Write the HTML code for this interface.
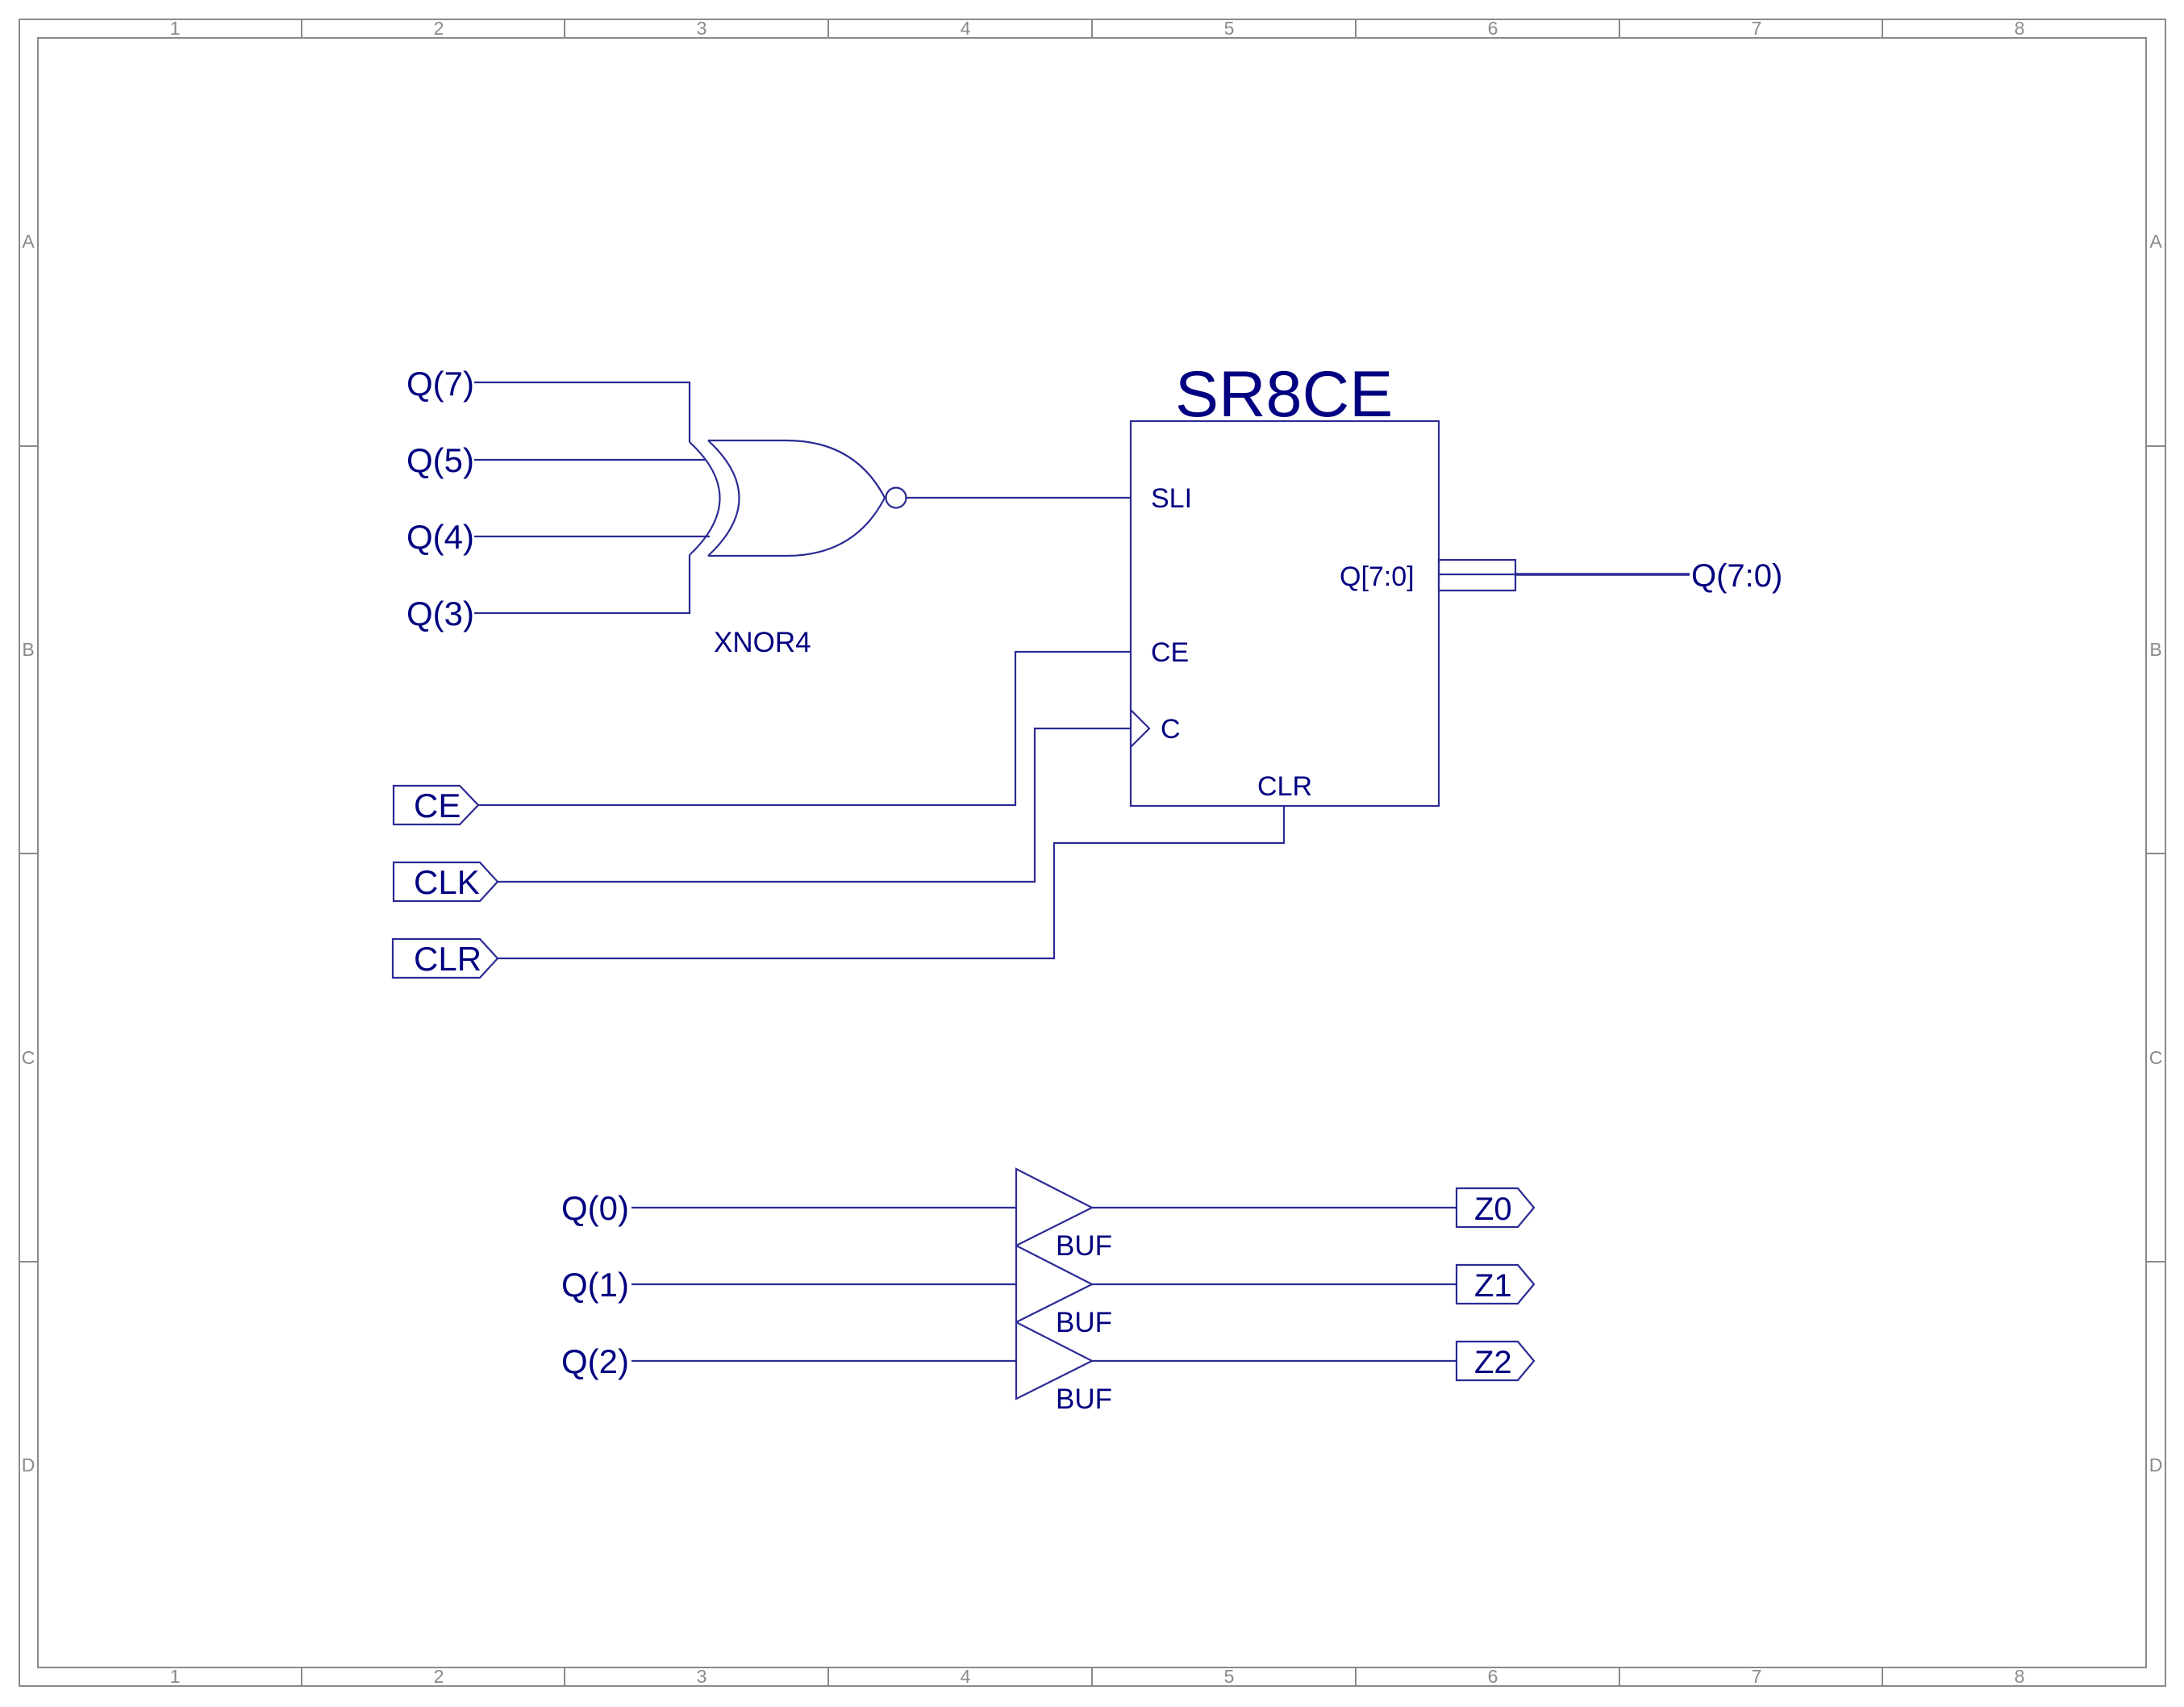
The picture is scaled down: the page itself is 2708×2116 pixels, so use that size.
<!DOCTYPE html>
<html><head><meta charset="utf-8"><style>
html,body{margin:0;padding:0;background:#fff;}
svg{display:block;}
text{font-family:"Liberation Sans",Arial,sans-serif;}
</style></head><body>
<svg width="2708" height="2116" viewBox="0 0 2708 2116" xmlns="http://www.w3.org/2000/svg">
<g fill="none" stroke="#8a8a8a" stroke-width="2">
<rect x="24" y="24" width="2661" height="2066"/>
<rect x="47" y="47" width="2614" height="2020"/>
<line x1="374" y1="24" x2="374" y2="47"/><line x1="700" y1="24" x2="700" y2="47"/><line x1="1027" y1="24" x2="1027" y2="47"/><line x1="1354" y1="24" x2="1354" y2="47"/><line x1="1681" y1="24" x2="1681" y2="47"/><line x1="2008" y1="24" x2="2008" y2="47"/><line x1="2334" y1="24" x2="2334" y2="47"/>
<line x1="374" y1="2067" x2="374" y2="2090"/><line x1="700" y1="2067" x2="700" y2="2090"/><line x1="1027" y1="2067" x2="1027" y2="2090"/><line x1="1354" y1="2067" x2="1354" y2="2090"/><line x1="1681" y1="2067" x2="1681" y2="2090"/><line x1="2008" y1="2067" x2="2008" y2="2090"/><line x1="2334" y1="2067" x2="2334" y2="2090"/>
<line x1="24" y1="553" x2="47" y2="553"/><line x1="24" y1="1058" x2="47" y2="1058"/><line x1="24" y1="1564" x2="47" y2="1564"/>
<line x1="2661" y1="553" x2="2685" y2="553"/><line x1="2661" y1="1058" x2="2685" y2="1058"/><line x1="2661" y1="1564" x2="2685" y2="1564"/>
</g>
<g fill="#8a8a8a" font-size="23" text-anchor="middle">
<text x="217" y="43">1</text><text x="544" y="43">2</text><text x="870" y="43">3</text><text x="1197" y="43">4</text><text x="1524" y="43">5</text><text x="1851" y="43">6</text><text x="2178" y="43">7</text><text x="2504" y="43">8</text>
<text x="217" y="2086">1</text><text x="544" y="2086">2</text><text x="870" y="2086">3</text><text x="1197" y="2086">4</text><text x="1524" y="2086">5</text><text x="1851" y="2086">6</text><text x="2178" y="2086">7</text><text x="2504" y="2086">8</text>
<text x="35" y="307">A</text><text x="35" y="813">B</text><text x="35" y="1319">C</text><text x="35" y="1824">D</text>
<text x="2673" y="307">A</text><text x="2673" y="813">B</text><text x="2673" y="1319">C</text><text x="2673" y="1824">D</text>
</g>
<g fill="none" stroke="#2b2b95" stroke-width="2.2">
<polyline points="588,474 855,474 855,548"/>
<line x1="588" y1="570" x2="874" y2="570"/>
<line x1="588" y1="665" x2="880" y2="665"/>
<polyline points="588,760 855,760 855,688"/>
<path d="M855,548 Q930,617 855,688"/>
<path d="M878,546 Q955,617 878,689"/>
<path d="M878,546 L975,546 Q1060,546 1097,617 Q1060,689 975,689 L878,689"/>
<circle cx="1111" cy="617" r="12.5"/>
<line x1="1124" y1="617" x2="1402" y2="617"/>
<rect x="1402" y="522" width="382" height="477"/>
<polyline points="1402,880 1425,903 1402,926"/>
<rect x="1784" y="694" width="95" height="38"/>
<line x1="1784" y1="712" x2="1879" y2="712"/>
<line x1="1879" y1="712" x2="2095" y2="712" stroke-width="3.5"/>
<polyline points="1402,808 1259,808 1259,998 593,998"/>
<polyline points="1402,903 1283,903 1283,1093 617,1093"/>
<polyline points="1592,999 1592,1045 1307,1045 1307,1188 617,1188"/>
<polygon points="488,974 570,974 593,998 570,1022 488,1022"/>
<polygon points="488,1069 595,1069 617,1093 595,1117 488,1117"/>
<polygon points="487,1164 595,1164 617,1188 595,1212 487,1212"/>
<line x1="783" y1="1497" x2="1260" y2="1497"/>
<line x1="783" y1="1592" x2="1260" y2="1592"/>
<line x1="783" y1="1687" x2="1260" y2="1687"/>
<polygon points="1260,1449 1354,1497 1260,1544"/>
<polygon points="1260,1544 1354,1592 1260,1639"/>
<polygon points="1260,1639 1354,1687 1260,1734"/>
<line x1="1354" y1="1497" x2="1806" y2="1497"/>
<line x1="1354" y1="1592" x2="1806" y2="1592"/>
<line x1="1354" y1="1687" x2="1806" y2="1687"/>
<polygon points="1806,1473 1882,1473 1902,1497 1882,1521 1806,1521"/>
<polygon points="1806,1568 1882,1568 1902,1592 1882,1616 1806,1616"/>
<polygon points="1806,1663 1882,1663 1902,1687 1882,1711 1806,1711"/>
</g>
<g fill="#000080">
<text x="504" y="490" font-size="42">Q(7)</text>
<text x="504" y="585" font-size="42">Q(5)</text>
<text x="504" y="680" font-size="42">Q(4)</text>
<text x="504" y="775" font-size="42">Q(3)</text>
<text x="885" y="808" font-size="35">XNOR4</text>
<text x="1457" y="516" font-size="81">SR8CE</text>
<text x="1427" y="629" font-size="34">SLI</text>
<text x="1427" y="820" font-size="34">CE</text>
<text x="1439" y="915" font-size="34">C</text>
<text x="1559" y="986" font-size="34">CLR</text>
<text x="1661" y="726" font-size="34">Q[7:0]</text>
<text x="2097" y="727" font-size="40">Q(7:0)</text>
<text x="513" y="1013" font-size="42">CE</text>
<text x="513" y="1108" font-size="42">CLK</text>
<text x="513" y="1203" font-size="42">CLR</text>
<text x="696" y="1512" font-size="42">Q(0)</text>
<text x="696" y="1607" font-size="42">Q(1)</text>
<text x="696" y="1702" font-size="42">Q(2)</text>
<text x="1309" y="1556" font-size="35">BUF</text>
<text x="1309" y="1651" font-size="35">BUF</text>
<text x="1309" y="1746" font-size="35">BUF</text>
<text x="1828" y="1512" font-size="40">Z0</text>
<text x="1828" y="1607" font-size="40">Z1</text>
<text x="1828" y="1702" font-size="40">Z2</text>
</g>
</svg>
</body></html>
